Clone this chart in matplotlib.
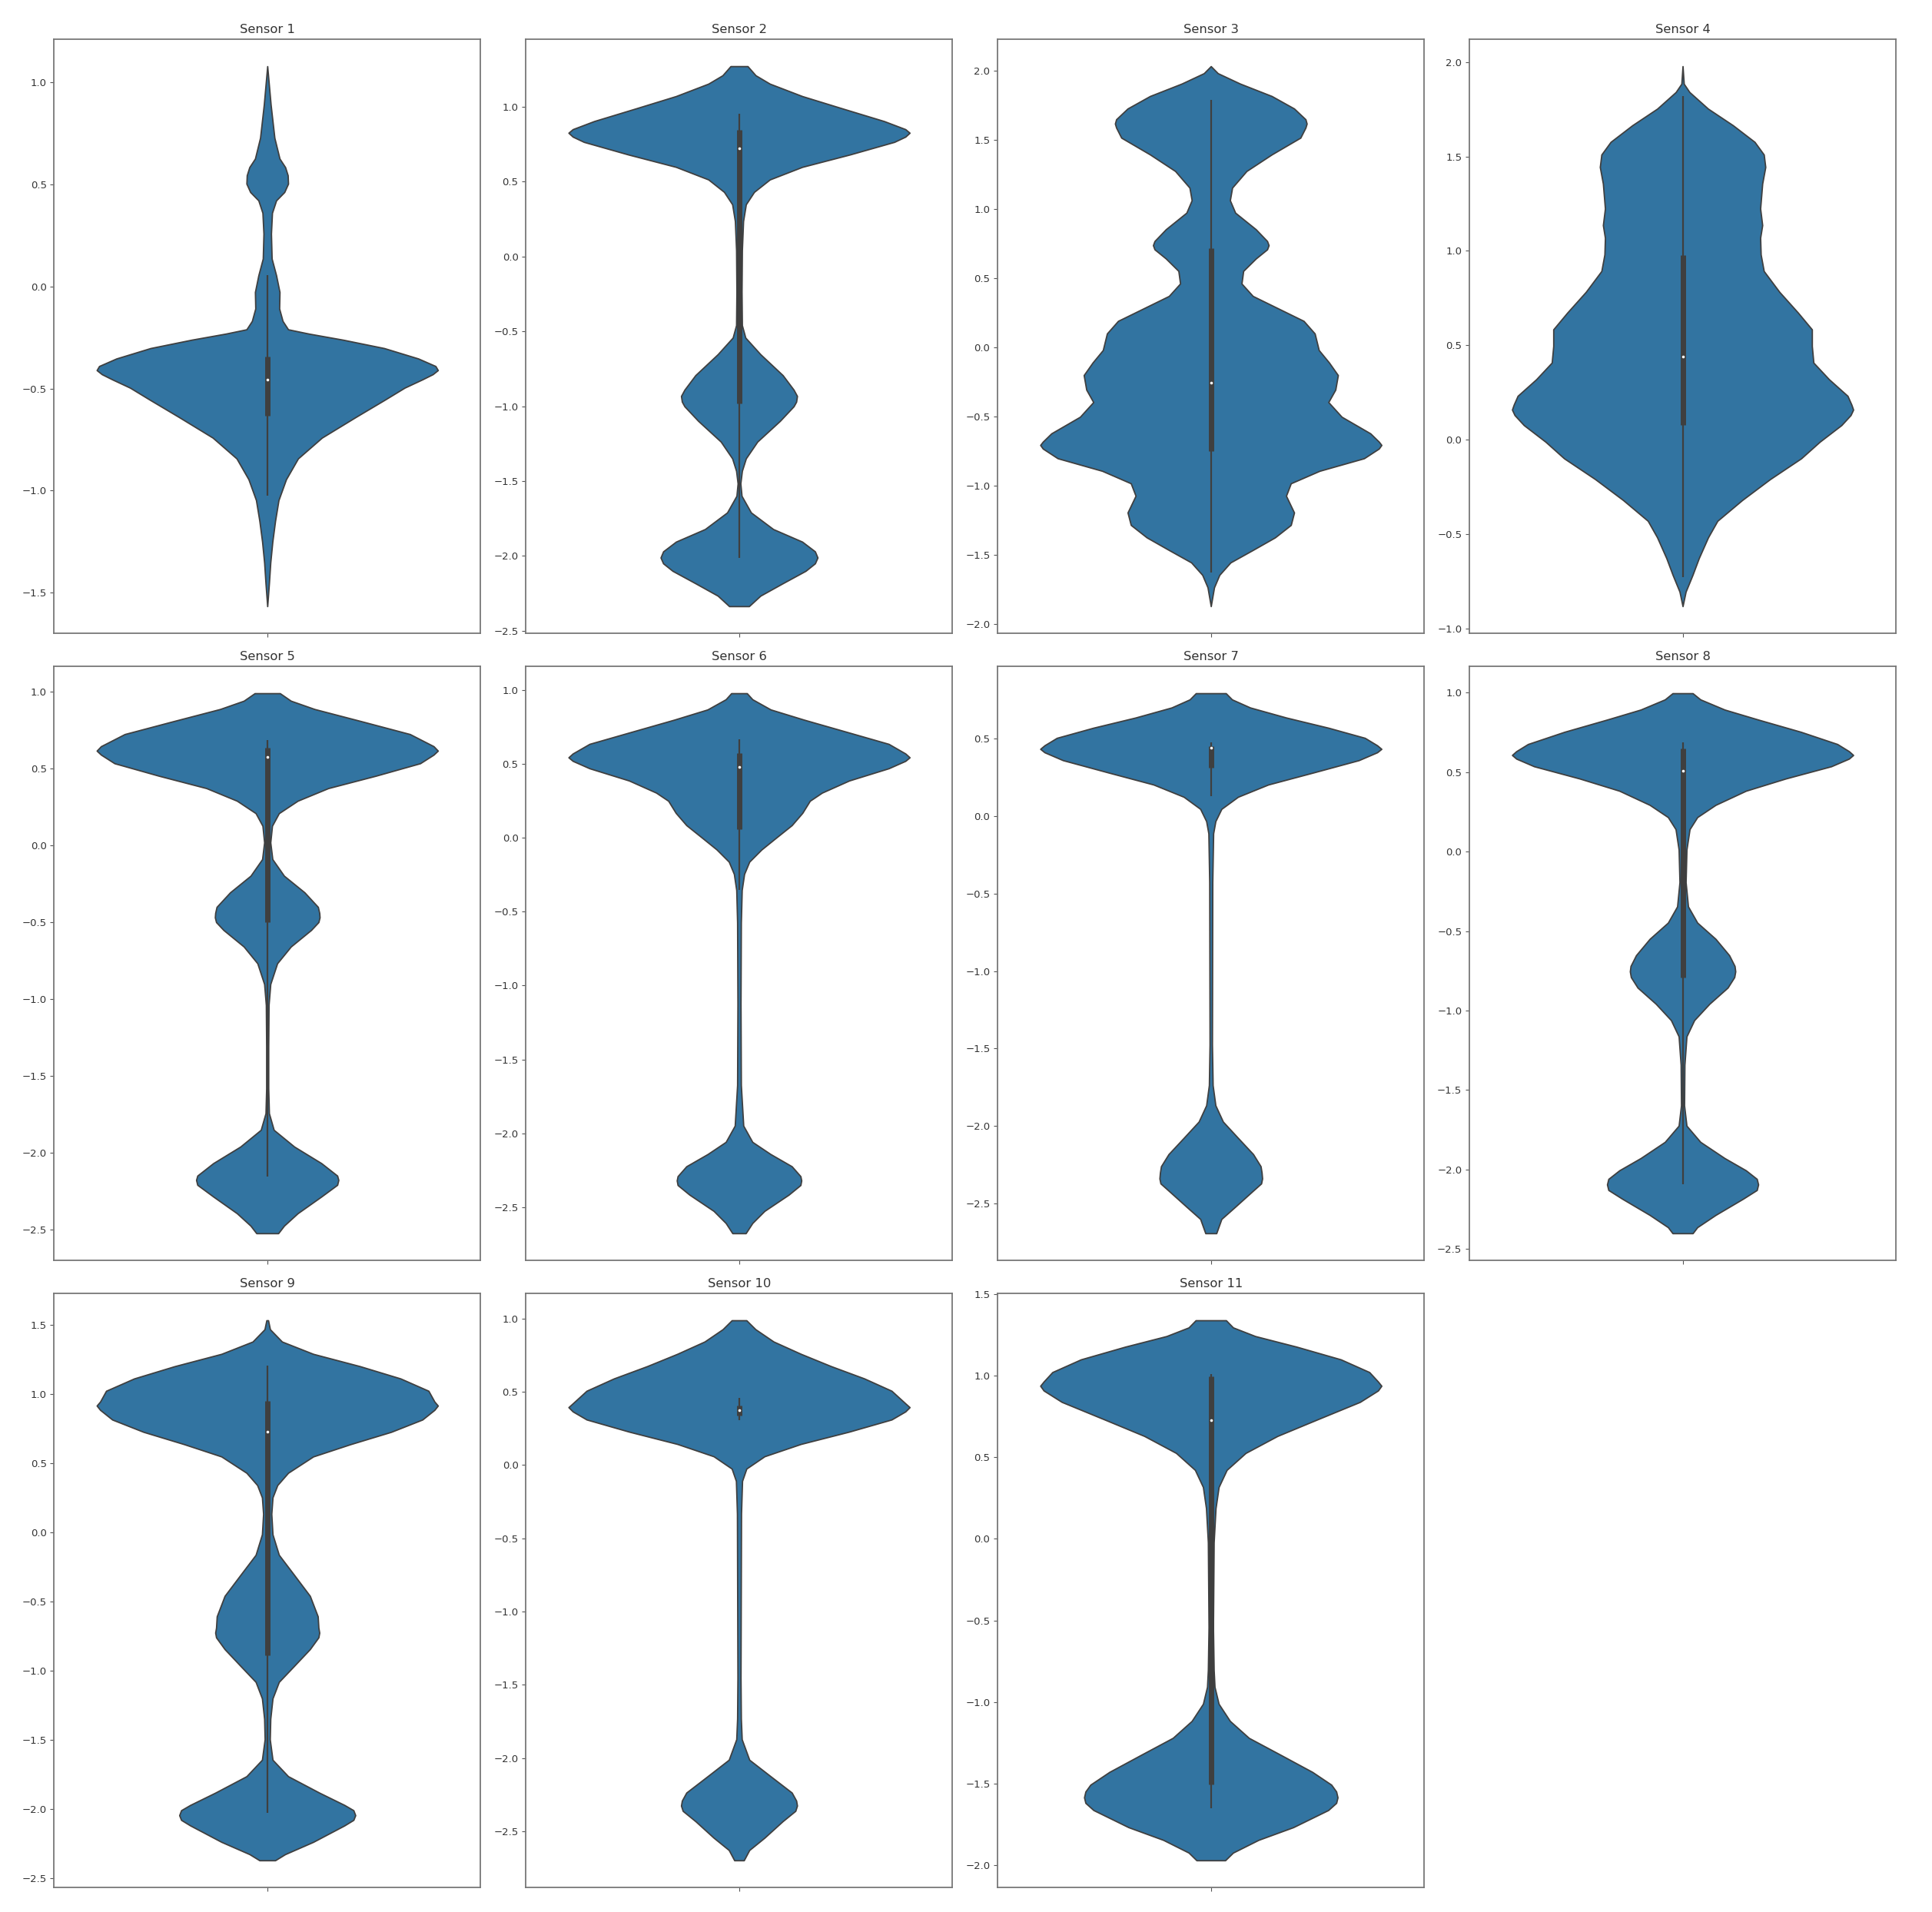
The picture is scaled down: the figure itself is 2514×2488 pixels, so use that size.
import matplotlib
matplotlib.use("Agg")
import matplotlib.pyplot as plt
import numpy as np

# sensor names
sensors = ["Sensor %d" % i for i in range(1, 12)]

# violin outlines: value levels (top -> bottom)
# and half width relative to the widest point of that violin
y_levels = [
    [1.08, 0.892, 0.729, 0.627, 0.585, 0.545, 0.504, 0.463, 0.422, 0.361, 0.259, 0.137, 0.055, -0.027,
     -0.108, -0.169, -0.210, -0.231, -0.261, -0.302, -0.353, -0.390, -0.410, -0.43, -0.455, -0.496,
     -0.557, -0.639, -0.741, -0.843, -0.945, -1.047, -1.149, -1.251, -1.353, -1.455, -1.567],
    [1.271, 1.210, 1.154, 1.071, 0.987, 0.904, 0.85, 0.826, 0.80, 0.765, 0.681, 0.598, 0.514, 0.431,
     0.348, 0.236, 0.042, -0.236, -0.459, -0.542, -0.653, -0.793, -0.89, -0.932, -0.97, -1.001, -1.098,
     -1.237, -1.349, -1.432, -1.516, -1.599, -1.710, -1.821, -1.905, -1.97, -2.011, -2.05, -2.100,
     -2.183, -2.266, -2.336],
    [2.034, 1.983, 1.908, 1.818, 1.728, 1.65, 1.619, 1.59, 1.517, 1.396, 1.276, 1.156, 1.065, 0.975,
     0.855, 0.77, 0.740, 0.71, 0.644, 0.554, 0.463, 0.373, 0.283, 0.193, 0.102, -0.018, -0.108, -0.199,
     -0.304, -0.394, -0.500, -0.620, -0.68, -0.704, -0.73, -0.800, -0.891, -0.981, -1.071, -1.192,
     -1.282, -1.372, -1.463, -1.553, -1.643, -1.733, -1.869],
    [1.978, 1.885, 1.841, 1.753, 1.665, 1.577, 1.510, 1.444, 1.356, 1.224, 1.136, 1.069, 0.981, 0.893,
     0.783, 0.673, 0.584, 0.496, 0.408, 0.320, 0.232, 0.185, 0.159, 0.13, 0.077, -0.011, -0.099,
     -0.209, -0.320, -0.430, -0.518, -0.628, -0.717, -0.805, -0.882],
    [0.990, 0.941, 0.887, 0.806, 0.724, 0.645, 0.616, 0.59, 0.534, 0.453, 0.372, 0.290, 0.209, 0.127,
     0.019, -0.090, -0.198, -0.306, -0.401, -0.44, -0.469, -0.50, -0.551, -0.659, -0.768, -0.903,
     -1.039, -1.310, -1.581, -1.744, -1.852, -1.961, -2.069, -2.15, -2.178, -2.21, -2.286, -2.395,
     -2.476, -2.525],
    [0.978, 0.937, 0.868, 0.799, 0.717, 0.635, 0.57, 0.544, 0.52, 0.470, 0.387, 0.305, 0.250, 0.168,
     0.085, 0.003, -0.080, -0.162, -0.245, -0.354, -0.574, -1.124, -1.673, -1.948, -2.058, -2.140,
     -2.223, -2.29, -2.319, -2.35, -2.415, -2.525, -2.607, -2.676],
    [0.791, 0.751, 0.699, 0.634, 0.568, 0.503, 0.455, 0.432, 0.41, 0.359, 0.280, 0.202, 0.123, 0.045,
     -0.034, -0.113, -0.427, -1.474, -1.736, -1.866, -1.971, -2.076, -2.181, -2.259, -2.30, -2.338,
     -2.37, -2.416, -2.521, -2.599, -2.691],
    [0.997, 0.958, 0.894, 0.831, 0.754, 0.677, 0.632, 0.608, 0.585, 0.537, 0.460, 0.383, 0.294, 0.217,
     0.141, 0.013, -0.192, -0.345, -0.447, -0.549, -0.652, -0.72, -0.754, -0.79, -0.856, -0.958,
     -1.061, -1.163, -1.342, -1.597, -1.725, -1.827, -1.929, -2.006, -2.06, -2.095, -2.13, -2.185,
     -2.287, -2.364, -2.402],
    [1.533, 1.468, 1.379, 1.290, 1.201, 1.112, 1.023, 0.945, 0.916, 0.885, 0.815, 0.726, 0.637, 0.548,
     0.430, 0.341, 0.252, 0.133, -0.015, -0.163, -0.311, -0.460, -0.608, -0.69, -0.726, -0.76, -0.845,
     -0.964, -1.082, -1.201, -1.349, -1.497, -1.645, -1.764, -1.883, -1.972, -2.01, -2.046, -2.08,
     -2.120, -2.239, -2.328, -2.372],
    [0.987, 0.926, 0.842, 0.758, 0.674, 0.590, 0.506, 0.42, 0.394, 0.365, 0.310, 0.227, 0.143, 0.059,
     -0.025, -0.109, -0.333, -1.452, -1.731, -1.871, -2.011, -2.123, -2.235, -2.29, -2.324, -2.36,
     -2.431, -2.543, -2.627, -2.697],
    [1.341, 1.297, 1.244, 1.179, 1.101, 1.023, 0.965, 0.939, 0.91, 0.840, 0.736, 0.631, 0.527, 0.423,
     0.318, 0.188, -0.021, -0.543, -0.804, -0.908, -1.012, -1.117, -1.221, -1.325, -1.430, -1.508,
     -1.55, -1.586, -1.62, -1.664, -1.769, -1.847, -1.925, -1.972],
]

half_widths = [
    [0.0, 0.02, 0.042, 0.072, 0.105, 0.12, 0.122, 0.10, 0.052, 0.028, 0.022, 0.026, 0.052, 0.072,
     0.07, 0.09, 0.122, 0.243, 0.444, 0.685, 0.885, 0.986, 1.0, 0.97, 0.91, 0.805,
     0.685, 0.52, 0.32, 0.18, 0.11, 0.066, 0.046, 0.03, 0.018, 0.01, 0.0],
    [0.05, 0.097, 0.18, 0.37, 0.61, 0.85, 0.975, 1.0, 0.975, 0.91, 0.65, 0.37, 0.18, 0.088,
     0.04, 0.024, 0.017, 0.015, 0.017, 0.037, 0.125, 0.256, 0.32, 0.34, 0.335, 0.32, 0.24,
     0.107, 0.04, 0.017, 0.008, 0.015, 0.07, 0.2, 0.37, 0.445, 0.46, 0.445, 0.39,
     0.256, 0.125, 0.058],
    [0.0, 0.041, 0.171, 0.357, 0.488, 0.555, 0.562, 0.555, 0.525, 0.357, 0.209, 0.125, 0.112, 0.143,
     0.264, 0.33, 0.339, 0.33, 0.264, 0.19, 0.18, 0.246, 0.395, 0.544, 0.609, 0.633, 0.693, 0.745,
     0.73, 0.689, 0.767, 0.935, 0.985, 1.0, 0.985, 0.898, 0.637, 0.469, 0.441, 0.488,
     0.469, 0.376, 0.246, 0.115, 0.05, 0.019, 0.0],
    [0.0, 0.007, 0.04, 0.149, 0.295, 0.422, 0.476, 0.485, 0.467, 0.455, 0.467, 0.455, 0.458, 0.476,
     0.567, 0.676, 0.758, 0.758, 0.767, 0.858, 0.967, 0.99, 1.0, 0.985, 0.931, 0.804, 0.695,
     0.513, 0.349, 0.204, 0.149, 0.095, 0.058, 0.018, 0.0],
    [0.074, 0.138, 0.277, 0.557, 0.836, 0.975, 1.0, 0.975, 0.896, 0.637, 0.357, 0.178, 0.068, 0.028,
     0.018, 0.03, 0.098, 0.218, 0.297, 0.305, 0.307, 0.30, 0.257, 0.138, 0.058, 0.018,
     0.008, 0.006, 0.006, 0.01, 0.038, 0.158, 0.317, 0.41, 0.417, 0.41, 0.317, 0.178,
     0.098, 0.064],
    [0.046, 0.078, 0.185, 0.380, 0.629, 0.877, 0.975, 1.0, 0.975, 0.877, 0.645, 0.486, 0.415, 0.371,
     0.309, 0.22, 0.131, 0.06, 0.03, 0.016, 0.011, 0.009, 0.011, 0.025, 0.078, 0.184,
     0.309, 0.36, 0.365, 0.36, 0.291, 0.149, 0.078, 0.039],
    [0.088, 0.124, 0.23, 0.442, 0.69, 0.903, 0.975, 1.0, 0.975, 0.867, 0.602, 0.336, 0.159, 0.062,
     0.027, 0.014, 0.009, 0.007, 0.011, 0.027, 0.071, 0.159, 0.248, 0.292, 0.298, 0.301,
     0.295, 0.248, 0.142, 0.062, 0.032],
    [0.059, 0.104, 0.246, 0.443, 0.693, 0.907, 0.975, 1.0, 0.975, 0.871, 0.604, 0.371, 0.193, 0.086,
     0.041, 0.023, 0.018, 0.032, 0.086, 0.193, 0.273, 0.305, 0.309, 0.303, 0.264, 0.157,
     0.068, 0.023, 0.011, 0.009, 0.023, 0.104, 0.246, 0.371, 0.435, 0.443, 0.435, 0.354,
     0.193, 0.086, 0.059],
    [0.005, 0.016, 0.086, 0.269, 0.543, 0.781, 0.945, 0.98, 1.0, 0.98, 0.909, 0.726, 0.488, 0.269,
     0.122, 0.059, 0.031, 0.024, 0.031, 0.068, 0.159, 0.25, 0.296, 0.30, 0.305, 0.30, 0.25,
     0.159, 0.068, 0.031, 0.018, 0.015, 0.031, 0.122, 0.305, 0.452, 0.505, 0.516, 0.505,
     0.452, 0.269, 0.104, 0.046],
    [0.043, 0.096, 0.202, 0.362, 0.539, 0.734, 0.894, 0.975, 1.0, 0.975, 0.894, 0.645, 0.362, 0.149,
     0.043, 0.018, 0.012, 0.009, 0.011, 0.016, 0.06, 0.184, 0.309, 0.335, 0.34, 0.33,
     0.255, 0.149, 0.06, 0.028],
    [0.089, 0.13, 0.26, 0.502, 0.762, 0.929, 0.98, 1.0, 0.98, 0.874, 0.632, 0.39, 0.204, 0.093,
     0.046, 0.028, 0.017, 0.013, 0.017, 0.022, 0.046, 0.112, 0.223, 0.409, 0.595, 0.706,
     0.735, 0.743, 0.735, 0.688, 0.483, 0.279, 0.13, 0.084],
]

# inner box statistics
whisker_high = [0.055, 0.954, 1.788, 1.819, 0.683, 0.668, 0.476, 0.690, 1.207, 0.456, 1.010]
q3 = [-0.343, 0.848, 0.719, 0.977, 0.637, 0.574, 0.450, 0.647, 0.949, 0.408, 0.997]
median = [-0.455, 0.723, -0.253, 0.441, 0.575, 0.481, 0.442, 0.511, 0.726, 0.372, 0.728]
q1 = [-0.633, -0.982, -0.746, 0.077, -0.502, 0.058, 0.312, -0.792, -0.889, 0.338, -1.508]
whisker_low = [-1.027, -2.011, -1.628, -0.728, -2.156, -0.354, 0.128, -2.095, -2.031, 0.305, -1.651]

fill_color = "#3274a1"
line_color = "#3f3f3f"
max_half = 0.4

fig, axes = plt.subplots(3, 4, figsize=(25.14, 24.88), dpi=100)
fig.subplots_adjust(left=0.028, right=0.9813, top=0.9795, bottom=0.0129,
                    wspace=0.1063, hspace=0.0556)
axes = axes.flatten()

for i, name in enumerate(sensors):
    ax = axes[i]
    yy = np.array(y_levels[i])
    ww = np.array(half_widths[i]) * max_half
    ax.fill_betweenx(yy, -ww, ww, facecolor=fill_color, edgecolor=line_color, linewidth=1.3,
                     joinstyle="round", zorder=1)
    # whiskers, box and median
    ax.plot([0, 0], [whisker_low[i], whisker_high[i]], color=line_color, lw=1.6,
            solid_capstyle="butt", zorder=2)
    ax.plot([0, 0], [q1[i], q3[i]], color=line_color, lw=5.0, solid_capstyle="butt", zorder=3)
    ax.plot([0], [median[i]], marker="o", color="white", markersize=2.6, markeredgewidth=0, zorder=4)

    ax.set_xlim(-0.5, 0.5)
    ax.set_xticks([0])
    ax.set_xticklabels([""])
    ax.set_title(name, fontsize=11.8, color="#333333")
    ax.tick_params(axis="both", labelsize=9.5, colors="#555555", labelcolor="#333333")
    for sp in ax.spines.values():
        sp.set_color("#777777")
        sp.set_linewidth(1.3)

axes[11].axis("off")

plt.savefig("out.png", dpi=100)
